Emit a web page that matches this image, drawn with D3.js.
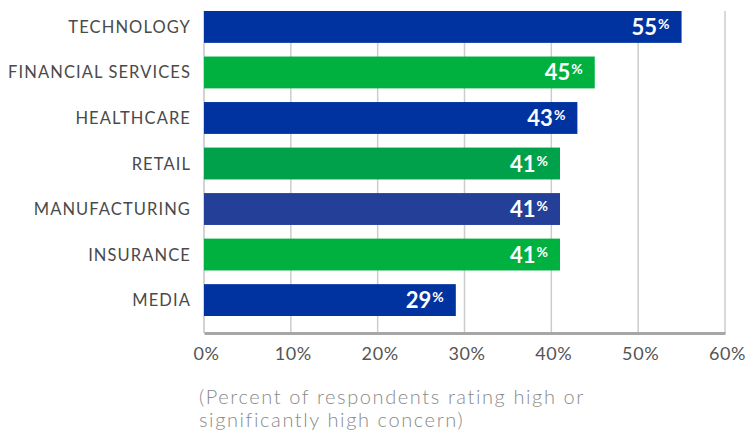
<!DOCTYPE html>
<html>
<head>
<meta charset="utf-8">
<script src="https://cdn.jsdelivr.net/npm/d3@7"></script>
<style>
  html, body { margin: 0; padding: 0; background: #fff; }
  svg { display: block; }
  text { font-family: Lato, "Open Sans", sans-serif; }
</style>
</head>
<body>
<svg id="chart" width="746" height="437"></svg>
<script>
// Industries and share of respondents rating high / significantly high concern
const categories = ["TECHNOLOGY", "FINANCIAL SERVICES", "HEALTHCARE", "RETAIL", "MANUFACTURING", "INSURANCE", "MEDIA"];
const values = [55, 45, 43, 41, 41, 41, 29];
const barColors = ["#0033a0", "#00b140", "#0033a0", "#00a14b", "#233f98", "#00b140", "#0033a0"];
const xTicks = [0, 10, 20, 30, 40, 50, 60];
const captionLines = ["(Percent of respondents rating high or", "significantly high concern)"];

const svg = d3.select("#chart");

const plot = { left: 204, right: 725, top: 11, barsBottom: 316, axisY: 333 };

const x = d3.scaleLinear().domain([0, 60]).range([plot.left, plot.right]);
const y = d3.scaleBand().domain(categories).range([plot.top, plot.barsBottom]).paddingInner(0.3).paddingOuter(0);

// vertical gridlines
svg.append("g").selectAll("line")
  .data(xTicks.filter(d => d > 0))
  .join("line")
  .attr("x1", d => x(d)).attr("x2", d => x(d))
  .attr("y1", plot.top).attr("y2", plot.axisY)
  .attr("stroke", "#cccccc").attr("stroke-width", 1.5);

// left baseline
svg.append("line")
  .attr("x1", x(0)).attr("x2", x(0))
  .attr("y1", plot.top).attr("y2", plot.axisY)
  .attr("stroke", "#c4c4c4").attr("stroke-width", 1.5);

// bars
svg.append("g").selectAll("rect")
  .data(categories)
  .join("rect")
  .attr("x", x(0))
  .attr("y", d => y(d))
  .attr("width", (d, i) => x(values[i]) - x(0))
  .attr("height", y.bandwidth())
  .attr("fill", (d, i) => barColors[i]);

// value labels inside bars
const vl = svg.append("g").selectAll("text")
  .data(categories)
  .join("text")
  .attr("x", (d, i) => x(values[i]) - 12)
  .attr("y", d => y(d) + y.bandwidth() / 2 + 8)
  .attr("text-anchor", "end")
  .attr("fill", "#ffffff")
  .attr("font-weight", 700)
  .attr("font-size", 22);
vl.append("tspan").text((d, i) => values[i]);
vl.append("tspan").text("%").attr("font-size", 14).attr("dy", -6).attr("dx", 1);

// category labels
svg.append("g").selectAll("text")
  .data(categories)
  .join("text")
  .attr("x", 191)
  .attr("y", d => y(d) + y.bandwidth() / 2 + 6)
  .attr("text-anchor", "end")
  .attr("fill", "#4a4a4a")
  .attr("font-size", 16.5)
  .attr("letter-spacing", 1.1)
  .text(d => d);

// x axis
const axis = svg.append("g")
  .attr("transform", `translate(0,${plot.axisY})`)
  .call(d3.axisBottom(x).tickValues(xTicks).tickFormat(d => d + "%").tickSize(0).tickPadding(14));
axis.select(".domain").attr("stroke", "#a6a6a6").attr("stroke-width", 3);
axis.selectAll("text")
  .attr("font-family", "Lato, sans-serif")
  .attr("font-size", 18)
  .attr("letter-spacing", 0.6)
  .attr("fill", "#555555")
  .attr("dx", 2);

// caption
svg.append("text")
  .attr("y", 404)
  .attr("fill", "#8a8a8a")
  .attr("font-size", 20)
  .attr("font-weight", 300)
  .attr("letter-spacing", 1.6)
  .selectAll("tspan")
  .data(captionLines)
  .join("tspan")
  .attr("x", 199)
  .attr("dy", (d, i) => i === 0 ? 0 : 23)
  .text(d => d);
</script>
</body>
</html>
